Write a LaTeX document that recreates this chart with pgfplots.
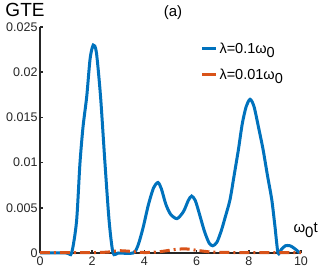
\documentclass[border=0pt]{standalone}
\usepackage{pgfplots}
\pgfplotsset{compat=1.18}
\usepackage{fontspec}
\setmainfont{Liberation Sans}
\definecolor{mblue}{RGB}{0,114,189}
\definecolor{morange}{RGB}{217,83,25}
\begin{document}
\begin{tikzpicture}
\useasboundingbox (-40pt,-20pt) rectangle (287pt,253pt);
\begin{axis}[
  at={(0,0)}, anchor=origin,
  scale only axis, width=261pt, height=226pt,
  xmin=0, xmax=10, ymin=0, ymax=0.025,
  axis x line*=bottom, axis y line*=left,
  axis line style={line width=1.6pt, black!85, -},
  xtick={0,2,...,10},
  ytick={0,0.005,0.01,0.015,0.02,0.025},
  yticklabels={0,0.005,0.01,0.015,0.02,0.025},
  scaled y ticks=false,
  tick align=inside, major tick length=3pt,
  tick style={line width=1.6pt, black!85},
  /pgf/number format/assume math mode=true,
  ticklabel style={font=\fontsize{12.5}{13}\selectfont, text=black!85},
  yticklabel style={xshift=1pt},
  every axis plot/.append style={smooth},
  clip=false,
  legend style={draw=none, fill=none, at={(0.615,0.94)}, anchor=north west,
    font=\fontsize{14.5}{15}\selectfont, row sep=10pt, inner sep=0pt},
  legend cell align=left,
  legend image code/.code={\draw[#1, line width=2.8pt, solid] (0pt,0pt) -- (14pt,0pt);},
]
\addplot[mblue, line width=3pt, tension=0.45] coordinates {
(0,0) (1.0,0) (1.21,0) (1.4,0.0035) (1.53,0.0099) (1.65,0.014) (1.79,0.0173) (1.92,0.0215) (2.04,0.0230) (2.16,0.0222) (2.32,0.0173) (2.49,0.0099) (2.65,0.0035) (2.8,0) (3.0,0) (3.57,0)
(3.75,0.0008) (3.95,0.0028) (4.15,0.0053) (4.35,0.0072) (4.52,0.0078) (4.65,0.0071) (4.82,0.0054) (5.0,0.0043) (5.25,0.0038) (5.5,0.0046) (5.68,0.0058) (5.81,0.0063) (5.95,0.0058) (6.1,0.0044) (6.3,0.0024) (6.48,0.0011) (6.62,0.0008) (6.78,0.0012) (6.95,0.0025)
(7.1,0.0040) (7.28,0.0059) (7.45,0.0088) (7.6,0.0114) (7.75,0.0143) (7.9,0.0162) (8.05,0.0170) (8.2,0.0162) (8.38,0.0138) (8.55,0.0114) (8.72,0.0085) (8.88,0.0059) (9.0,0.0030) (9.12,0)
(9.25,0.0004) (9.4,0.0008) (9.58,0.0008) (9.75,0.0005) (9.96,0)
};
\addlegendentry{λ=0.1ω\raisebox{-0.6ex}{0}}
\addplot[morange, line width=3pt, dash pattern=on 10pt off 4pt on 2pt off 4pt] coordinates {
(0,0.00005) (1,0.00005) (2,0.00005) (2.6,0.0001) (3.0,0.00025) (3.4,0.0002) (4.0,0.00005) (4.6,0.00015) (5.2,0.0004) (5.6,0.00045) (6.0,0.0003) (6.6,0.0001) (7.5,0.00005) (8.5,0.00005) (10,0.00005)
};
\addlegendentry{λ=0.01ω\raisebox{-0.6ex}{0}}
\end{axis}
\node[font=\fontsize{19}{20}\selectfont, anchor=base] at (-15pt,236pt) {GTE};
\node[font=\fontsize{15}{16}\selectfont, anchor=base] at (133pt,236pt) {(a)};
\node[font=\fontsize{15}{16}\selectfont, anchor=base west] at (250pt,20pt) {ω\raisebox{-0.6ex}{0}t};
\end{tikzpicture}
\end{document}
